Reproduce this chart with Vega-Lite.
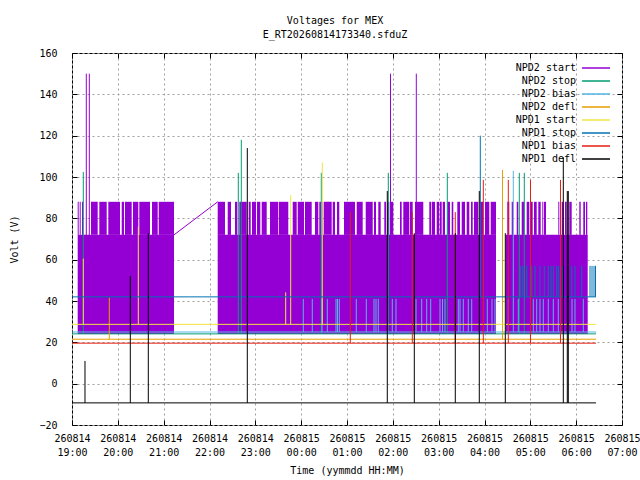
{
  "$schema": "https://vega.github.io/schema/vega-lite/v6.json",
  "width": 550,
  "height": 372,
  "autosize": {"type": "none"},
  "padding": {"left": 72, "top": 53, "right": 18, "bottom": 55},
  "background": "white",
  "title": {
    "text": ["Voltages for MEX", "E_RT20260814173340.sfduZ"],
    "font": "DejaVu Sans Mono",
    "fontSize": 10,
    "fontWeight": "normal",
    "color": "black",
    "anchor": "middle",
    "dx": -12,
    "offset": 8,
    "lineHeight": 14
  },
  "datasets": {
    "band": [
      {"t0": "2026-08-14T19:07:28Z", "t1": "2026-08-14T21:13:32Z", "lo": 24, "hi": 72},
      {"t0": "2026-08-14T22:10:44Z", "t1": "2026-08-15T04:15:03Z", "lo": 24, "hi": 72},
      {"t0": "2026-08-15T04:27:45Z", "t1": "2026-08-15T06:15:06Z", "lo": 24, "hi": 72},
      {"t0": "2026-08-14T19:07:28Z", "t1": "2026-08-14T19:08:46Z", "lo": 72, "hi": 88},
      {"t0": "2026-08-14T19:10:05Z", "t1": "2026-08-14T19:11:23Z", "lo": 72, "hi": 88},
      {"t0": "2026-08-14T19:13:05Z", "t1": "2026-08-14T19:14:24Z", "lo": 72, "hi": 88},
      {"t0": "2026-08-14T19:24:52Z", "t1": "2026-08-14T19:33:38Z", "lo": 72, "hi": 88},
      {"t0": "2026-08-14T19:35:44Z", "t1": "2026-08-14T19:45:26Z", "lo": 72, "hi": 88},
      {"t0": "2026-08-14T19:47:31Z", "t1": "2026-08-14T20:02:50Z", "lo": 72, "hi": 88},
      {"t0": "2026-08-14T20:05:04Z", "t1": "2026-08-14T20:08:04Z", "lo": 72, "hi": 88},
      {"t0": "2026-08-14T20:09:23Z", "t1": "2026-08-14T20:18:09Z", "lo": 72, "hi": 88},
      {"t0": "2026-08-14T20:19:51Z", "t1": "2026-08-14T20:26:48Z", "lo": 72, "hi": 88},
      {"t0": "2026-08-14T20:28:06Z", "t1": "2026-08-14T20:42:07Z", "lo": 72, "hi": 88},
      {"t0": "2026-08-14T20:44:44Z", "t1": "2026-08-14T20:52:12Z", "lo": 72, "hi": 88},
      {"t0": "2026-08-14T20:53:30Z", "t1": "2026-08-14T21:13:32Z", "lo": 72, "hi": 88},
      {"t0": "2026-08-14T22:10:44Z", "t1": "2026-08-14T22:20:17Z", "lo": 72, "hi": 88},
      {"t0": "2026-08-14T22:23:50Z", "t1": "2026-08-14T22:28:09Z", "lo": 72, "hi": 88},
      {"t0": "2026-08-14T22:33:23Z", "t1": "2026-08-14T22:36:23Z", "lo": 72, "hi": 88},
      {"t0": "2026-08-14T22:39:01Z", "t1": "2026-08-14T22:48:42Z", "lo": 72, "hi": 88},
      {"t0": "2026-08-14T22:51:19Z", "t1": "2026-08-14T22:53:56Z", "lo": 72, "hi": 88},
      {"t0": "2026-08-14T22:55:38Z", "t1": "2026-08-14T23:00:52Z", "lo": 72, "hi": 88},
      {"t0": "2026-08-14T23:02:11Z", "t1": "2026-08-14T23:06:30Z", "lo": 72, "hi": 88},
      {"t0": "2026-08-14T23:08:20Z", "t1": "2026-08-14T23:14:53Z", "lo": 72, "hi": 88},
      {"t0": "2026-08-14T23:19:12Z", "t1": "2026-08-14T23:30:04Z", "lo": 72, "hi": 88},
      {"t0": "2026-08-14T23:30:59Z", "t1": "2026-08-14T23:43:09Z", "lo": 72, "hi": 88},
      {"t0": "2026-08-14T23:48:55Z", "t1": "2026-08-14T23:54:09Z", "lo": 72, "hi": 88},
      {"t0": "2026-08-14T23:55:28Z", "t1": "2026-08-15T00:03:43Z", "lo": 72, "hi": 88},
      {"t0": "2026-08-15T00:05:01Z", "t1": "2026-08-15T00:13:47Z", "lo": 72, "hi": 88},
      {"t0": "2026-08-15T00:18:07Z", "t1": "2026-08-15T00:22:26Z", "lo": 72, "hi": 88},
      {"t0": "2026-08-15T00:23:44Z", "t1": "2026-08-15T00:25:58Z", "lo": 72, "hi": 88},
      {"t0": "2026-08-15T00:27:16Z", "t1": "2026-08-15T00:28:59Z", "lo": 72, "hi": 88},
      {"t0": "2026-08-15T00:29:53Z", "t1": "2026-08-15T00:39:58Z", "lo": 72, "hi": 88},
      {"t0": "2026-08-15T00:41:17Z", "t1": "2026-08-15T00:44:17Z", "lo": 72, "hi": 88},
      {"t0": "2026-08-15T00:46:55Z", "t1": "2026-08-15T00:49:55Z", "lo": 72, "hi": 88},
      {"t0": "2026-08-15T00:56:04Z", "t1": "2026-08-15T01:10:28Z", "lo": 72, "hi": 88},
      {"t0": "2026-08-15T01:12:42Z", "t1": "2026-08-15T01:20:33Z", "lo": 72, "hi": 88},
      {"t0": "2026-08-15T01:24:29Z", "t1": "2026-08-15T01:33:39Z", "lo": 72, "hi": 88},
      {"t0": "2026-08-15T01:35:21Z", "t1": "2026-08-15T01:37:58Z", "lo": 72, "hi": 88},
      {"t0": "2026-08-15T01:40:58Z", "t1": "2026-08-15T01:44:07Z", "lo": 72, "hi": 88},
      {"t0": "2026-08-15T01:48:50Z", "t1": "2026-08-15T01:51:03Z", "lo": 72, "hi": 88},
      {"t0": "2026-08-15T01:52:45Z", "t1": "2026-08-15T01:55:22Z", "lo": 72, "hi": 88},
      {"t0": "2026-08-15T01:57:12Z", "t1": "2026-08-15T02:00:36Z", "lo": 72, "hi": 88},
      {"t0": "2026-08-15T02:09:23Z", "t1": "2026-08-15T02:11:36Z", "lo": 72, "hi": 88},
      {"t0": "2026-08-15T02:13:42Z", "t1": "2026-08-15T02:21:34Z", "lo": 72, "hi": 88},
      {"t0": "2026-08-15T02:22:28Z", "t1": "2026-08-15T02:26:00Z", "lo": 72, "hi": 88},
      {"t0": "2026-08-15T02:29:01Z", "t1": "2026-08-15T02:39:53Z", "lo": 72, "hi": 88},
      {"t0": "2026-08-15T02:47:44Z", "t1": "2026-08-15T02:49:58Z", "lo": 72, "hi": 88},
      {"t0": "2026-08-15T02:50:53Z", "t1": "2026-08-15T02:55:12Z", "lo": 72, "hi": 88},
      {"t0": "2026-08-15T02:57:25Z", "t1": "2026-08-15T03:00:50Z", "lo": 72, "hi": 88},
      {"t0": "2026-08-15T03:01:45Z", "t1": "2026-08-15T03:03:58Z", "lo": 72, "hi": 88},
      {"t0": "2026-08-15T03:05:17Z", "t1": "2026-08-15T03:08:17Z", "lo": 72, "hi": 88},
      {"t0": "2026-08-15T03:11:18Z", "t1": "2026-08-15T03:14:50Z", "lo": 72, "hi": 88},
      {"t0": "2026-08-15T03:17:04Z", "t1": "2026-08-15T03:19:09Z", "lo": 72, "hi": 88},
      {"t0": "2026-08-15T03:24:24Z", "t1": "2026-08-15T03:27:56Z", "lo": 72, "hi": 88},
      {"t0": "2026-08-15T03:30:09Z", "t1": "2026-08-15T03:34:28Z", "lo": 72, "hi": 88},
      {"t0": "2026-08-15T03:36:42Z", "t1": "2026-08-15T03:40:06Z", "lo": 72, "hi": 88},
      {"t0": "2026-08-15T03:42:20Z", "t1": "2026-08-15T03:44:33Z", "lo": 72, "hi": 88},
      {"t0": "2026-08-15T03:46:15Z", "t1": "2026-08-15T03:51:53Z", "lo": 72, "hi": 88},
      {"t0": "2026-08-15T03:54:07Z", "t1": "2026-08-15T03:58:26Z", "lo": 72, "hi": 88},
      {"t0": "2026-08-15T04:00:39Z", "t1": "2026-08-15T04:06:17Z", "lo": 72, "hi": 88},
      {"t0": "2026-08-15T04:08:07Z", "t1": "2026-08-15T04:15:03Z", "lo": 72, "hi": 88},
      {"t0": "2026-08-15T04:29:51Z", "t1": "2026-08-15T04:32:28Z", "lo": 72, "hi": 88},
      {"t0": "2026-08-15T04:35:36Z", "t1": "2026-08-15T04:37:42Z", "lo": 72, "hi": 88},
      {"t0": "2026-08-15T04:42:09Z", "t1": "2026-08-15T04:44:15Z", "lo": 72, "hi": 88},
      {"t0": "2026-08-15T04:48:42Z", "t1": "2026-08-15T04:52:06Z", "lo": 72, "hi": 88},
      {"t0": "2026-08-15T04:55:14Z", "t1": "2026-08-15T04:58:38Z", "lo": 72, "hi": 88},
      {"t0": "2026-08-15T05:00:29Z", "t1": "2026-08-15T05:03:05Z", "lo": 72, "hi": 88},
      {"t0": "2026-08-15T05:04:48Z", "t1": "2026-08-15T05:08:20Z", "lo": 72, "hi": 88},
      {"t0": "2026-08-15T05:10:26Z", "t1": "2026-08-15T05:13:34Z", "lo": 72, "hi": 88},
      {"t0": "2026-08-15T05:15:40Z", "t1": "2026-08-15T05:16:58Z", "lo": 72, "hi": 88},
      {"t0": "2026-08-15T05:17:53Z", "t1": "2026-08-15T05:20:31Z", "lo": 72, "hi": 88},
      {"t0": "2026-08-15T05:36:37Z", "t1": "2026-08-15T05:37:55Z", "lo": 72, "hi": 88},
      {"t0": "2026-08-15T05:41:04Z", "t1": "2026-08-15T05:43:10Z", "lo": 72, "hi": 88},
      {"t0": "2026-08-15T05:45:23Z", "t1": "2026-08-15T05:47:36Z", "lo": 72, "hi": 88},
      {"t0": "2026-08-15T05:51:00Z", "t1": "2026-08-15T05:54:09Z", "lo": 72, "hi": 88},
      {"t0": "2026-08-15T06:04:06Z", "t1": "2026-08-15T06:05:56Z", "lo": 72, "hi": 88},
      {"t0": "2026-08-15T06:09:20Z", "t1": "2026-08-15T06:11:34Z", "lo": 72, "hi": 88},
      {"t0": "2026-08-15T06:12:52Z", "t1": "2026-08-15T06:14:35Z", "lo": 72, "hi": 88}
    ],
    "segs": [
      {"s": "NPD2 start", "t0": "2026-08-14T21:13:32Z", "t1": "2026-08-14T22:10:44Z", "v0": 72, "v1": 88},
      {"s": "NPD2 start", "t0": "2026-08-14T19:18:43Z", "t1": "2026-08-14T19:18:43Z", "v0": 24, "v1": 150},
      {"s": "NPD2 start", "t0": "2026-08-14T19:22:39Z", "t1": "2026-08-14T19:22:39Z", "v0": 24, "v1": 150},
      {"s": "NPD2 start", "t0": "2026-08-15T01:56:56Z", "t1": "2026-08-15T01:56:56Z", "v0": 24, "v1": 150},
      {"s": "NPD2 start", "t0": "2026-08-15T02:30:43Z", "t1": "2026-08-15T02:30:43Z", "v0": 24, "v1": 150},
      {"s": "NPD2 stop", "t0": "2026-08-14T19:00:00Z", "t1": "2026-08-15T06:25:58Z", "v0": 24.1, "v1": 24.1},
      {"s": "NPD2 stop", "t0": "2026-08-14T19:14:48Z", "t1": "2026-08-14T19:14:48Z", "v0": 24.1, "v1": 102.4},
      {"s": "NPD2 stop", "t0": "2026-08-14T22:37:42Z", "t1": "2026-08-14T22:37:42Z", "v0": 24.1, "v1": 102},
      {"s": "NPD2 stop", "t0": "2026-08-14T22:41:38Z", "t1": "2026-08-14T22:41:38Z", "v0": 24.1, "v1": 118},
      {"s": "NPD2 stop", "t0": "2026-08-15T00:26:21Z", "t1": "2026-08-15T00:26:21Z", "v0": 24.1, "v1": 102},
      {"s": "NPD2 stop", "t0": "2026-08-15T01:54:04Z", "t1": "2026-08-15T01:54:04Z", "v0": 24.1, "v1": 102},
      {"s": "NPD2 stop", "t0": "2026-08-15T03:11:18Z", "t1": "2026-08-15T03:11:18Z", "v0": 24.1, "v1": 102},
      {"s": "NPD2 stop", "t0": "2026-08-15T04:45:34Z", "t1": "2026-08-15T04:45:34Z", "v0": 24.1, "v1": 102},
      {"s": "NPD2 stop", "t0": "2026-08-15T04:52:06Z", "t1": "2026-08-15T04:52:06Z", "v0": 24.1, "v1": 102},
      {"s": "NPD2 bias", "t0": "2026-08-14T19:00:00Z", "t1": "2026-08-15T06:25:58Z", "v0": 25, "v1": 25},
      {"s": "NPD2 bias", "t0": "2026-08-15T00:02:47Z", "t1": "2026-08-15T00:02:47Z", "v0": 25, "v1": 41},
      {"s": "NPD2 bias", "t0": "2026-08-15T00:14:34Z", "t1": "2026-08-15T00:14:34Z", "v0": 25, "v1": 41},
      {"s": "NPD2 bias", "t0": "2026-08-15T00:27:16Z", "t1": "2026-08-15T00:27:16Z", "v0": 25, "v1": 41},
      {"s": "NPD2 bias", "t0": "2026-08-15T00:34:13Z", "t1": "2026-08-15T00:34:13Z", "v0": 25, "v1": 41},
      {"s": "NPD2 bias", "t0": "2026-08-15T00:45:36Z", "t1": "2026-08-15T00:45:36Z", "v0": 25, "v1": 41},
      {"s": "NPD2 bias", "t0": "2026-08-15T00:47:34Z", "t1": "2026-08-15T00:47:34Z", "v0": 25, "v1": 41},
      {"s": "NPD2 bias", "t0": "2026-08-15T00:49:55Z", "t1": "2026-08-15T00:49:55Z", "v0": 25, "v1": 41},
      {"s": "NPD2 bias", "t0": "2026-08-15T01:12:10Z", "t1": "2026-08-15T01:12:10Z", "v0": 25, "v1": 41},
      {"s": "NPD2 bias", "t0": "2026-08-15T01:25:16Z", "t1": "2026-08-15T01:25:16Z", "v0": 25, "v1": 41},
      {"s": "NPD2 bias", "t0": "2026-08-15T01:35:21Z", "t1": "2026-08-15T01:35:21Z", "v0": 25, "v1": 41},
      {"s": "NPD2 bias", "t0": "2026-08-15T01:37:58Z", "t1": "2026-08-15T01:37:58Z", "v0": 25, "v1": 41},
      {"s": "NPD2 bias", "t0": "2026-08-15T01:40:58Z", "t1": "2026-08-15T01:40:58Z", "v0": 25, "v1": 41},
      {"s": "NPD2 bias", "t0": "2026-08-15T01:59:18Z", "t1": "2026-08-15T01:59:18Z", "v0": 25, "v1": 41},
      {"s": "NPD2 bias", "t0": "2026-08-15T02:04:09Z", "t1": "2026-08-15T02:04:09Z", "v0": 25, "v1": 41},
      {"s": "NPD2 bias", "t0": "2026-08-15T02:30:20Z", "t1": "2026-08-15T02:30:20Z", "v0": 25, "v1": 41},
      {"s": "NPD2 bias", "t0": "2026-08-15T02:37:47Z", "t1": "2026-08-15T02:37:47Z", "v0": 25, "v1": 41},
      {"s": "NPD2 bias", "t0": "2026-08-15T02:44:20Z", "t1": "2026-08-15T02:44:20Z", "v0": 25, "v1": 41},
      {"s": "NPD2 bias", "t0": "2026-08-15T02:49:34Z", "t1": "2026-08-15T02:49:34Z", "v0": 25, "v1": 41},
      {"s": "NPD2 bias", "t0": "2026-08-15T03:01:45Z", "t1": "2026-08-15T03:01:45Z", "v0": 25, "v1": 41},
      {"s": "NPD2 bias", "t0": "2026-08-15T03:05:01Z", "t1": "2026-08-15T03:05:01Z", "v0": 25, "v1": 41},
      {"s": "NPD2 bias", "t0": "2026-08-15T03:08:17Z", "t1": "2026-08-15T03:08:17Z", "v0": 25, "v1": 41},
      {"s": "NPD2 bias", "t0": "2026-08-15T03:25:42Z", "t1": "2026-08-15T03:25:42Z", "v0": 25, "v1": 41},
      {"s": "NPD2 bias", "t0": "2026-08-15T03:27:56Z", "t1": "2026-08-15T03:27:56Z", "v0": 25, "v1": 41},
      {"s": "NPD2 bias", "t0": "2026-08-15T03:32:15Z", "t1": "2026-08-15T03:32:15Z", "v0": 25, "v1": 41},
      {"s": "NPD2 bias", "t0": "2026-08-15T03:38:48Z", "t1": "2026-08-15T03:38:48Z", "v0": 25, "v1": 41},
      {"s": "NPD2 bias", "t0": "2026-08-15T03:43:15Z", "t1": "2026-08-15T03:43:15Z", "v0": 25, "v1": 41},
      {"s": "NPD2 bias", "t0": "2026-08-15T04:03:39Z", "t1": "2026-08-15T04:03:39Z", "v0": 25, "v1": 41},
      {"s": "NPD2 bias", "t0": "2026-08-15T04:09:49Z", "t1": "2026-08-15T04:09:49Z", "v0": 25, "v1": 41},
      {"s": "NPD2 bias", "t0": "2026-08-15T04:13:45Z", "t1": "2026-08-15T04:13:45Z", "v0": 25, "v1": 41},
      {"s": "NPD2 bias", "t0": "2026-08-15T04:31:10Z", "t1": "2026-08-15T04:31:10Z", "v0": 25, "v1": 41},
      {"s": "NPD2 bias", "t0": "2026-08-15T04:37:42Z", "t1": "2026-08-15T04:37:42Z", "v0": 25, "v1": 103},
      {"s": "NPD2 bias", "t0": "2026-08-15T04:44:15Z", "t1": "2026-08-15T04:44:15Z", "v0": 25, "v1": 41},
      {"s": "NPD2 bias", "t0": "2026-08-15T05:03:53Z", "t1": "2026-08-15T05:03:53Z", "v0": 25, "v1": 41},
      {"s": "NPD2 bias", "t0": "2026-08-15T05:08:20Z", "t1": "2026-08-15T05:08:20Z", "v0": 25, "v1": 41},
      {"s": "NPD2 bias", "t0": "2026-08-15T05:12:39Z", "t1": "2026-08-15T05:12:39Z", "v0": 25, "v1": 41},
      {"s": "NPD2 bias", "t0": "2026-08-15T05:16:58Z", "t1": "2026-08-15T05:16:58Z", "v0": 25, "v1": 41},
      {"s": "NPD2 bias", "t0": "2026-08-15T05:23:31Z", "t1": "2026-08-15T05:23:31Z", "v0": 25, "v1": 41},
      {"s": "NPD2 bias", "t0": "2026-08-15T05:30:04Z", "t1": "2026-08-15T05:30:04Z", "v0": 25, "v1": 41},
      {"s": "NPD2 bias", "t0": "2026-08-15T05:36:37Z", "t1": "2026-08-15T05:36:37Z", "v0": 25, "v1": 41},
      {"s": "NPD2 bias", "t0": "2026-08-15T05:54:33Z", "t1": "2026-08-15T05:54:33Z", "v0": 25, "v1": 41},
      {"s": "NPD2 bias", "t0": "2026-08-15T05:58:28Z", "t1": "2026-08-15T05:58:28Z", "v0": 25, "v1": 41},
      {"s": "NPD2 bias", "t0": "2026-08-15T06:09:20Z", "t1": "2026-08-15T06:09:20Z", "v0": 25, "v1": 41},
      {"s": "NPD2 defl", "t0": "2026-08-14T19:00:00Z", "t1": "2026-08-15T06:25:58Z", "v0": 21.5, "v1": 21.5},
      {"s": "NPD2 defl", "t0": "2026-08-14T19:48:50Z", "t1": "2026-08-14T19:48:50Z", "v0": 21.5, "v1": 41.6},
      {"s": "NPD2 defl", "t0": "2026-08-15T04:23:34Z", "t1": "2026-08-15T04:23:34Z", "v0": 21.5, "v1": 103.4},
      {"s": "NPD1 start", "t0": "2026-08-14T19:00:00Z", "t1": "2026-08-15T06:25:58Z", "v0": 28.7, "v1": 28.7},
      {"s": "NPD1 start", "t0": "2026-08-14T19:14:48Z", "t1": "2026-08-14T19:14:48Z", "v0": 28.7, "v1": 60.5},
      {"s": "NPD1 start", "t0": "2026-08-14T20:26:48Z", "t1": "2026-08-14T20:26:48Z", "v0": 28.7, "v1": 76},
      {"s": "NPD1 start", "t0": "2026-08-14T23:39:45Z", "t1": "2026-08-14T23:39:45Z", "v0": 28.7, "v1": 44.2},
      {"s": "NPD1 start", "t0": "2026-08-14T23:46:18Z", "t1": "2026-08-14T23:46:18Z", "v0": 28.7, "v1": 91.2},
      {"s": "NPD1 start", "t0": "2026-08-15T00:27:40Z", "t1": "2026-08-15T00:27:40Z", "v0": 28.7, "v1": 107},
      {"s": "NPD1 stop", "t0": "2026-08-14T19:00:00Z", "t1": "2026-08-15T06:25:58Z", "v0": 42, "v1": 42},
      {"s": "NPD1 stop", "t0": "2026-08-15T03:54:30Z", "t1": "2026-08-15T03:54:30Z", "v0": 42, "v1": 120},
      {"s": "NPD1 stop", "t0": "2026-08-15T04:47:23Z", "t1": "2026-08-15T04:47:23Z", "v0": 42, "v1": 57},
      {"s": "NPD1 stop", "t0": "2026-08-15T04:50:00Z", "t1": "2026-08-15T04:50:00Z", "v0": 42, "v1": 57},
      {"s": "NPD1 stop", "t0": "2026-08-15T04:55:14Z", "t1": "2026-08-15T04:55:14Z", "v0": 42, "v1": 57},
      {"s": "NPD1 stop", "t0": "2026-08-15T05:01:47Z", "t1": "2026-08-15T05:01:47Z", "v0": 42, "v1": 57},
      {"s": "NPD1 stop", "t0": "2026-08-15T05:06:07Z", "t1": "2026-08-15T05:06:07Z", "v0": 42, "v1": 57},
      {"s": "NPD1 stop", "t0": "2026-08-15T05:12:39Z", "t1": "2026-08-15T05:12:39Z", "v0": 42, "v1": 57},
      {"s": "NPD1 stop", "t0": "2026-08-15T05:18:17Z", "t1": "2026-08-15T05:18:17Z", "v0": 42, "v1": 57},
      {"s": "NPD1 stop", "t0": "2026-08-15T05:23:31Z", "t1": "2026-08-15T05:23:31Z", "v0": 42, "v1": 57},
      {"s": "NPD1 stop", "t0": "2026-08-15T05:27:03Z", "t1": "2026-08-15T05:27:03Z", "v0": 42, "v1": 57},
      {"s": "NPD1 stop", "t0": "2026-08-15T05:30:04Z", "t1": "2026-08-15T05:30:04Z", "v0": 42, "v1": 57},
      {"s": "NPD1 stop", "t0": "2026-08-15T05:34:31Z", "t1": "2026-08-15T05:34:31Z", "v0": 42, "v1": 57},
      {"s": "NPD1 stop", "t0": "2026-08-15T05:36:37Z", "t1": "2026-08-15T05:36:37Z", "v0": 42, "v1": 57},
      {"s": "NPD1 stop", "t0": "2026-08-15T05:39:14Z", "t1": "2026-08-15T05:39:14Z", "v0": 42, "v1": 57},
      {"s": "NPD1 stop", "t0": "2026-08-15T05:42:22Z", "t1": "2026-08-15T05:42:22Z", "v0": 42, "v1": 57},
      {"s": "NPD1 stop", "t0": "2026-08-15T05:54:09Z", "t1": "2026-08-15T05:54:09Z", "v0": 42, "v1": 57},
      {"s": "NPD1 stop", "t0": "2026-08-15T05:58:28Z", "t1": "2026-08-15T05:58:28Z", "v0": 42, "v1": 57},
      {"s": "NPD1 stop", "t0": "2026-08-15T06:07:14Z", "t1": "2026-08-15T06:07:14Z", "v0": 42, "v1": 57},
      {"s": "NPD1 stop", "t0": "2026-08-15T06:18:07Z", "t1": "2026-08-15T06:18:07Z", "v0": 42, "v1": 57},
      {"s": "NPD1 stop", "t0": "2026-08-15T06:20:44Z", "t1": "2026-08-15T06:20:44Z", "v0": 42, "v1": 57},
      {"s": "NPD1 stop", "t0": "2026-08-15T06:23:21Z", "t1": "2026-08-15T06:23:21Z", "v0": 42, "v1": 57},
      {"s": "NPD1 stop", "t0": "2026-08-15T06:25:19Z", "t1": "2026-08-15T06:25:19Z", "v0": 42, "v1": 57},
      {"s": "NPD1 bias", "t0": "2026-08-14T19:00:00Z", "t1": "2026-08-15T06:25:58Z", "v0": 19.6, "v1": 19.6},
      {"s": "NPD1 bias", "t0": "2026-08-15T01:04:19Z", "t1": "2026-08-15T01:04:19Z", "v0": 19.6, "v1": 83},
      {"s": "NPD1 bias", "t0": "2026-08-15T02:25:29Z", "t1": "2026-08-15T02:25:29Z", "v0": 19.6, "v1": 83},
      {"s": "NPD1 bias", "t0": "2026-08-15T03:21:46Z", "t1": "2026-08-15T03:21:46Z", "v0": 19.6, "v1": 83},
      {"s": "NPD1 bias", "t0": "2026-08-15T03:58:26Z", "t1": "2026-08-15T03:58:26Z", "v0": 19.6, "v1": 98.6},
      {"s": "NPD1 bias", "t0": "2026-08-15T04:31:10Z", "t1": "2026-08-15T04:31:10Z", "v0": 19.6, "v1": 98.6},
      {"s": "NPD1 bias", "t0": "2026-08-15T05:00:13Z", "t1": "2026-08-15T05:00:13Z", "v0": 19.6, "v1": 98.6},
      {"s": "NPD1 bias", "t0": "2026-08-15T05:39:29Z", "t1": "2026-08-15T05:39:29Z", "v0": 19.6, "v1": 98.6},
      {"s": "NPD1 defl", "t0": "2026-08-14T19:00:00Z", "t1": "2026-08-15T06:25:58Z", "v0": -9.3, "v1": -9.3},
      {"s": "NPD1 defl", "t0": "2026-08-14T19:17:01Z", "t1": "2026-08-14T19:17:01Z", "v0": -9.3, "v1": 11},
      {"s": "NPD1 defl", "t0": "2026-08-14T20:16:19Z", "t1": "2026-08-14T20:16:19Z", "v0": -9.3, "v1": 52.1},
      {"s": "NPD1 defl", "t0": "2026-08-14T20:39:53Z", "t1": "2026-08-14T20:39:53Z", "v0": -9.3, "v1": 72.8},
      {"s": "NPD1 defl", "t0": "2026-08-14T22:49:29Z", "t1": "2026-08-14T22:49:29Z", "v0": -9.3, "v1": 114},
      {"s": "NPD1 defl", "t0": "2026-08-15T01:52:45Z", "t1": "2026-08-15T01:52:45Z", "v0": -9.3, "v1": 93.2},
      {"s": "NPD1 defl", "t0": "2026-08-15T02:28:06Z", "t1": "2026-08-15T02:28:06Z", "v0": -9.3, "v1": 72.8},
      {"s": "NPD1 defl", "t0": "2026-08-15T03:21:46Z", "t1": "2026-08-15T03:21:46Z", "v0": -9.3, "v1": 72.8},
      {"s": "NPD1 defl", "t0": "2026-08-15T03:53:11Z", "t1": "2026-08-15T03:53:11Z", "v0": -9.3, "v1": 93.2},
      {"s": "NPD1 defl", "t0": "2026-08-15T04:27:14Z", "t1": "2026-08-15T04:27:14Z", "v0": -9.3, "v1": 72.8},
      {"s": "NPD1 defl", "t0": "2026-08-15T05:43:10Z", "t1": "2026-08-15T05:43:10Z", "v0": -9.3, "v1": 109.5},
      {"s": "NPD1 defl", "t0": "2026-08-15T05:48:24Z", "t1": "2026-08-15T05:48:24Z", "v0": -9.3, "v1": 93.2},
      {"s": "NPD1 defl", "t0": "2026-08-15T05:49:42Z", "t1": "2026-08-15T05:49:42Z", "v0": -9.3, "v1": 93.2}
    ]
  },
  "layer": [
    {
      "data": {"name": "band"},
      "mark": {"type": "rect", "color": "#9400d3", "strokeWidth": 0},
      "encoding": {
        "x": {
          "field": "t0", "type": "temporal",
          "scale": {"type": "utc", "domain": [{"year": 2026, "month": 8, "date": 14, "hours": 19, "utc": true}, {"year": 2026, "month": 8, "date": 15, "hours": 7, "utc": true}], "nice": false},
          "axis": {"orient": "top", "labels": false, "grid": false, "title": null, "tickSize": -5, "tickCount": 12, "domain": false}
        },
        "x2": {"field": "t1"},
        "y": {
          "field": "lo", "type": "quantitative",
          "scale": {"domain": [-20, 160], "nice": false, "zero": false},
          "axis": {"orient": "right", "labels": false, "grid": false, "title": null, "tickSize": -5, "values": [-20, 0, 20, 40, 60, 80, 100, 120, 140, 160], "domain": false}
        },
        "y2": {"field": "hi"}
      }
    },
    {
      "data": {"name": "segs"},
      "mark": {"type": "rule", "strokeWidth": 1},
      "encoding": {
        "x": {
          "field": "t0", "type": "temporal",
          "axis": {
            "orient": "bottom", "title": "Time (yymmdd HH:MM)", "grid": true, "tickSize": -5, "domain": false,
            "tickCount": 12,
            "labelExpr": "[utcFormat(datum.value, '%y%m%d'), utcFormat(datum.value, '%H:%M')]",
            "labelPadding": 13, "labelLineHeight": 14, "labelBaseline": "top", "labelFlush": false, "labelOverlap": false,
            "titlePadding": 8
          }
        },
        "x2": {"field": "t1"},
        "y": {
          "field": "v0", "type": "quantitative",
          "axis": {"orient": "left", "title": "Volt (V)", "grid": true, "tickSize": -5, "domain": false, "values": [-20, 0, 20, 40, 60, 80, 100, 120, 140, 160], "labelPadding": 20, "titlePadding": 19}
        },
        "y2": {"field": "v1"},
        "color": {
          "field": "s", "type": "nominal", "sort": null,
          "scale": {
            "domain": ["NPD2 start", "NPD2 stop", "NPD2 bias", "NPD2 defl", "NPD1 start", "NPD1 stop", "NPD1 bias", "NPD1 defl"],
            "range": ["#9400d3", "#009e73", "#56b4e9", "#e69f00", "#f0e442", "#0072b2", "#e51e10", "#000000"]
          },
          "legend": {"title": null}
        }
      }
    }
  ],
  "resolve": {"axis": {"x": "independent", "y": "independent"}},
  "config": {
    "view": {"stroke": "black", "strokeWidth": 1},
    "axis": {
      "labelFont": "DejaVu Sans Mono", "labelFontSize": 10, "labelColor": "black",
      "titleFont": "DejaVu Sans Mono", "titleFontSize": 10, "titleFontWeight": "normal", "titleColor": "black",
      "tickColor": "black", "tickWidth": 1,
      "gridColor": "#a0a0a0", "gridDash": [2, 3], "gridOpacity": 1, "gridWidth": 1
    },
    "legend": {
      "orient": "top-right", "offset": 9, "padding": 0,
      "symbolType": "M-2.8,0H2.8", "symbolSize": 100, "symbolStrokeWidth": 1.5,
      "labelFont": "DejaVu Sans Mono", "labelFontSize": 10, "labelColor": "black",
      "labelAlign": "right", "labelOffset": -26, "rowPadding": 2
    }
  }
}
